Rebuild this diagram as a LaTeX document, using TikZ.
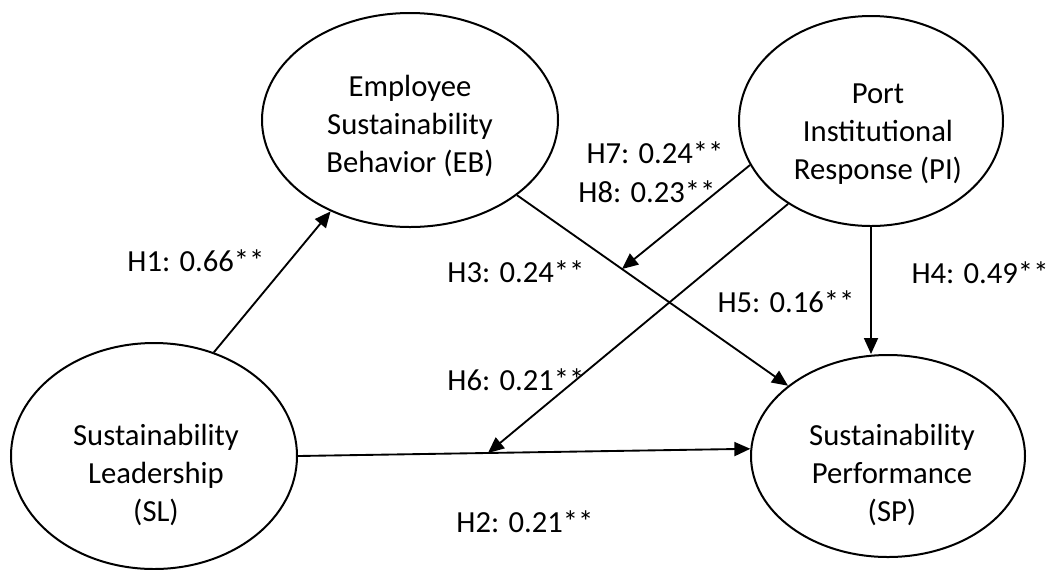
\documentclass[tikz,border=0pt]{standalone}
\usepackage{fontspec}
\setmainfont{Carlito}
\usetikzlibrary{shapes.geometric,arrows.meta,calc}
\begin{document}
\begin{tikzpicture}[x=0.75pt,y=-0.75pt,
  latent/.style={draw,ellipse,line width=1.5pt,inner sep=0pt},
  txt/.style={align=center,font=\fontsize{23}{28.5}\selectfont,inner sep=0pt},
  lbl/.style={font=\fontsize{23}{28.5}\selectfont,inner sep=0pt},
  arr/.style={line width=1.4pt,-{Triangle[length=12pt,width=10.5pt]}}]
\fill[white] (0,0) rectangle (1063,569);
\useasboundingbox (0,0) rectangle (1063,569);
% latent variables
\node[latent,minimum width=222pt,minimum height=160.5pt] (EB) at (410,120) {};
\node[latent,minimum width=198pt,minimum height=157.5pt] (PI) at (871,121) {};
\node[latent,minimum width=214.5pt,minimum height=169.5pt] (SL) at (154,456) {};
\node[latent,minimum width=205.5pt,minimum height=151.5pt] (SP) at (888,456) {};
% texts
\node[txt] (EBt) at (410,126) {Employee\\Sustainability\\Behavior (EB)};
\node[txt] (PIt) at (878,134) {Port\\Institutional\\Response (PI)};
\node[txt] (SLt) at (156,475) {Sustainability\\Leadership\\(SL)};
\node[txt] (SPt) at (892,475) {Sustainability\\Performance\\(SP)};
% paths
\draw[arr] (SL.60) -- (EB.229);
\draw[arr] (SL.east) -- (SP.177);
\draw[arr] (EB) -- (SP);
\draw[arr] (PI.south) -- (PI.south |- SP.north);
\coordinate (m1) at ($(EB)!0.4435!(SP)$);
\coordinate (m2) at ($(SL.east)!0.42!(SP.177)$);
\draw[arr] (PI.200) -- (m1);
\draw[arr] (PI.225) -- (m2);
% labels
\node[lbl] (h1) at (196,261) {H1: 0.66**};
\node[lbl] (h7) at (655,153) {H7: 0.24**};
\node[lbl] (h8) at (647,192) {H8: 0.23**};
\node[lbl] (h3) at (516,272) {H3: 0.24**};
\node[lbl] (h4) at (980,273) {H4: 0.49**};
\node[lbl] (h5) at (786,302) {H5: 0.16**};
\node[lbl] (h6) at (516,380) {H6: 0.21**};
\node[lbl] (h2) at (525,522) {H2: 0.21**};
\end{tikzpicture}
\end{document}
